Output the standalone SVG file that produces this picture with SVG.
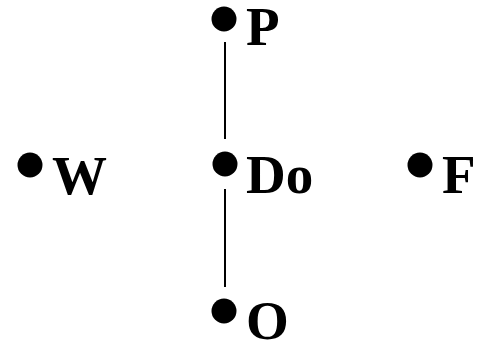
<svg xmlns="http://www.w3.org/2000/svg" width="481" height="350" viewBox="0 0 481 350">
<style>
.dot{fill:#000}
.lbl{font-family:"Liberation Serif","Times New Roman",serif;font-weight:bold;font-size:55px;fill:#000}
.edge{stroke:#000;stroke-width:2;fill:none}
</style>
<rect width="481" height="350" fill="#fff"/>
<g id="connectors">
<line class="edge" x1="225" y1="42" x2="225" y2="139"/>
<line class="edge" x1="225" y1="189" x2="225" y2="287"/>
</g>
<g id="node-P"><circle class="dot" cx="224" cy="19" r="12.5"/><text class="lbl" x="246" y="45">P</text></g>
<g id="node-W"><circle class="dot" cx="30" cy="165" r="12.5"/><text class="lbl" x="52" y="194">W</text></g>
<g id="node-Do"><circle class="dot" cx="225" cy="164" r="12.5"/><text class="lbl" x="246" y="193">Do</text></g>
<g id="node-F"><circle class="dot" cx="420" cy="165" r="12.5"/><text class="lbl" x="442" y="193">F</text></g>
<g id="node-O"><circle class="dot" cx="224" cy="311" r="12.5"/><text class="lbl" x="246" y="339">O</text></g>
</svg>
